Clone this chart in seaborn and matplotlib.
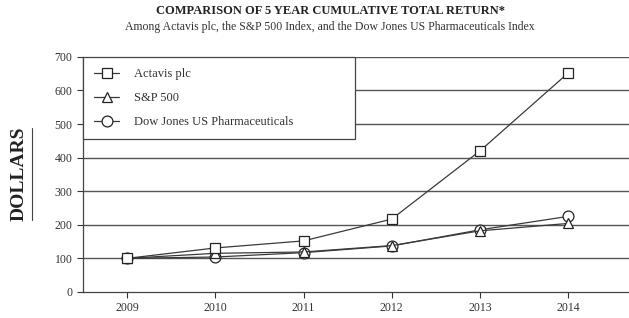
import matplotlib
matplotlib.use("Agg")
import matplotlib.pyplot as plt
import seaborn as sns
import pandas as pd
from matplotlib.lines import Line2D

years = [2009, 2010, 2011, 2012, 2013, 2014]
actavis = [100, 131, 152, 217, 420, 652]
sp500 = [100, 115, 119, 138, 182, 204]
dow_pharma = [100, 104, 117, 137, 185, 225]

series_names = ["Actavis plc", "S&P 500", "Dow Jones US Pharmaceuticals"]
y_ticks = [0, 100, 200, 300, 400, 500, 600, 700]

# drawn bottom-up: Dow Jones first, Actavis on top
draw_order = ["Dow Jones US Pharmaceuticals", "S&P 500", "Actavis plc"]
df = pd.DataFrame({
    "year": years * 3,
    "value": actavis + sp500 + dow_pharma,
    "series": [n for n in series_names for _ in years],
})

sns.set_theme(style="white")
plt.rcParams["font.family"] = ["Liberation Serif", "DejaVu Serif"]

ink = "#3a3a3a"
fig = plt.figure(figsize=(6.29, 3.18), dpi=100)
ax = fig.add_axes([0.132, 0.082, 0.868, 0.739])

for v in y_ticks[1:]:
    ax.axhline(v, color="#555555", lw=1.0, zorder=0)

sns.lineplot(
    data=df, x="year", y="value", hue="series", style="series",
    hue_order=draw_order, style_order=draw_order,
    palette=[ink] * 3, markers={"Actavis plc": "s", "S&P 500": "^",
                                "Dow Jones US Pharmaceuticals": "o"},
    dashes=False, lw=0.9, markersize=7.8, markerfacecolor="white",
    markeredgecolor="#222222", markeredgewidth=0.9, ax=ax, legend=True,
)

ax.set_xlim(2008.5, 2014.69)
ax.set_ylim(0, 700)
ax.set_xticks(years)
ax.set_yticks(y_ticks)
ax.set_xlabel("")
ax.set_ylabel("")
ax.tick_params(axis="both", labelsize=8.5, colors="#333333", length=4,
               width=0.8, direction="out", bottom=True, left=True)
for s in ["top", "right"]:
    ax.spines[s].set_visible(False)
for s in ["left", "bottom"]:
    ax.spines[s].set_color("#444444")
    ax.spines[s].set_linewidth(0.9)

handles, labels = ax.get_legend_handles_labels()
lookup = dict(zip(labels, handles))
leg = ax.legend([lookup[n] for n in series_names], series_names,
                loc="upper left", bbox_to_anchor=(0, 1, 0.498, 0),
                mode="expand", borderaxespad=0, fancybox=False, framealpha=1,
                edgecolor="#444444", fontsize=9, labelspacing=0.95,
                handlelength=2.0, handletextpad=1.2, borderpad=0.9)
leg.get_frame().set_linewidth(0.9)
for t in leg.get_texts():
    t.set_color("#333333")

fig.text(0.525, 0.965, "COMPARISON OF 5 YEAR CUMULATIVE TOTAL RETURN*",
         ha="center", va="center", fontsize=9, fontweight="bold", color="#222222")
fig.text(0.525, 0.915, "Among Actavis plc, the S&P 500 Index, and the Dow Jones US Pharmaceuticals Index",
         ha="center", va="center", fontsize=8.5, color="#333333")

fig.text(0.031, 0.453, "DOLLARS", rotation=90, ha="center", va="center",
         fontsize=14, fontweight="bold", color="#222222")
fig.add_artist(Line2D([0.051, 0.051], [0.308, 0.597], transform=fig.transFigure,
                      color="#444444", lw=0.8))

fig.savefig("out.png", dpi=100)
